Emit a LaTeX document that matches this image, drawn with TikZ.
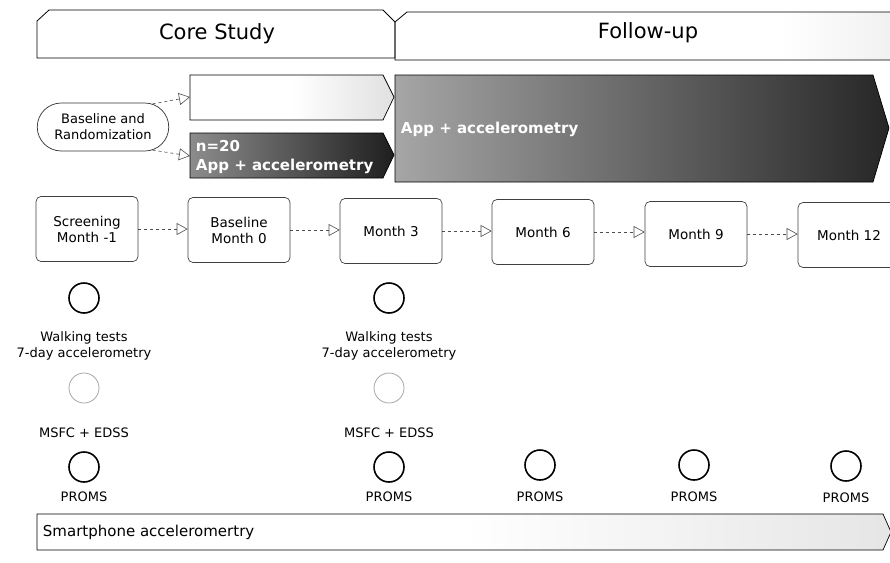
\documentclass[tikz,border=0pt]{standalone}
\usepackage{fontspec}
\setmainfont{DejaVu Sans}
\usepackage{tikz}
\usetikzlibrary{arrows.meta, shapes.misc}

\tikzset{
  monthbox/.style={draw=black!75, line width=0.7pt, rounded corners=5pt, minimum width=102pt, minimum height=65pt, align=center, font=\fontsize{13.5}{16}\selectfont},
  visit/.style={circle, draw=black, line width=1.6pt, minimum size=30pt, inner sep=0pt},
  visitfaint/.style={circle, draw=black!35, line width=0.8pt, minimum size=30pt, inner sep=0pt},
  lbl/.style={align=center, inner sep=0.75pt, font=\fontsize{13}{16}\selectfont},
  flow/.style={draw=black!70, dashed, line width=0.6pt, -{Triangle[open, length=11pt, width=12pt]}},
  armtext/.style={text=white, font=\fontsize{15}{19}\bfseries\selectfont, align=left, anchor=west, inner sep=0.75pt},
}

\begin{document}
\begin{tikzpicture}[x=1pt,y=1pt,yscale=-1,xscale=1]
\useasboundingbox (0,0) rectangle (890,562);
\clip (0,0) rectangle (890,562);

%Shape: Core Study header
\draw [line width=0.8pt, fill=white] (37,21) -- (49,10) -- (383,10) -- (395,22) -- (395,58) -- (37,58) -- cycle;
%Shape: Follow-up header
\begin{scope}
\clip (395,22) -- (407,12) -- (892,12) -- (892,60) -- (395,60) -- cycle;
\shade [left color=white, right color=black!6] (780,0) rectangle (900,70);
\end{scope}
\draw [line width=0.8pt] (892,12) -- (407,12) -- (395,22) -- (395,60) -- (892,60);

% Text Node
\node [font=\fontsize{21}{25}\selectfont] (core) at (217,34) {Core Study};
% Text Node
\node [font=\fontsize{21}{25}\selectfont] (follow) at (648,33) {Follow-up};

%Shape: upper arm
\shade [left color=white, right color=black!12, middle color=white, draw=black, line width=0.7pt] (190,75) -- (383,75) -- (394,97) -- (383,120) -- (190,120) -- cycle;
\coordinate (armA) at (190,97);
%Shape: lower arm
\shade [left color=black!45, right color=black!88, draw=black, line width=0.7pt] (190,133) -- (383,133) -- (394,155) -- (383,178) -- (190,178) -- cycle;
\coordinate (armB) at (190,156);
%Shape: follow-up arm
\shade [left color=black!35, right color=black!85, draw=black, line width=0.7pt] (395,75) -- (873,75) -- (889,128) -- (873,182) -- (395,182) -- cycle;

% Text Node
\node [armtext] (appB) at (195,157) {n=20\\App + accelerometry};
% Text Node
\node [armtext] (appF) at (400,129) {App + accelerometry};

%Rounded Rect: randomisation
\node [rounded rectangle, draw=black!80, line width=0.7pt, minimum width=133pt, minimum height=48pt, lbl] (rand) at (103,127) {Baseline and\\Randomization};
\draw [flow] (rand.25) -- (armA);
\draw [flow] (rand.-25) -- (armB);

%Rounded Rect: visits
\node [monthbox] (scr) at (87,229) {Screening\\Month -1};
\node [monthbox] (base) at (239,230) {Baseline\\Month 0};
\node [monthbox] (m3) at (391,231) {Month 3};
\node [monthbox] (m6) at (543,232) {Month 6};
\node [monthbox] (m9) at (696,234) {Month 9};
\node [monthbox] (m12) at (849,235) {Month 12};

\draw [flow] (scr.east) -- (scr.east -| base.west);
\draw [flow] (base.east) -- (base.east -| m3.west);
\draw [flow] (m3.east) -- (m3.east -| m6.west);
\draw [flow] (m6.east) -- (m6.east -| m9.west);
\draw [flow] (m9.east) -- (m9.east -| m12.west);

%Circles: assessments
\node [visit] (walk1) at (84,298) {};
\node [lbl] (walkt1) at (84,346) {Walking tests\\7-day accelerometry};
\node [visitfaint] (msfc1) at (84,388) {};
\node [lbl] (msfct1) at (84,433) {MSFC + EDSS};
\node [visit] (prom1) at (84,467) {};
\node [lbl] (promt1) at (84,497) {PROMS};

\node [visit] (walk3) at (389,298) {};
\node [lbl] (walkt3) at (389,346) {Walking tests\\7-day accelerometry};
\node [visitfaint] (msfc3) at (389,388) {};
\node [lbl] (msfct3) at (389,433) {MSFC + EDSS};
\node [visit] (prom3) at (389,467) {};
\node [lbl] (promt3) at (389,497) {PROMS};

\node [visit] (prom6) at (540,465) {};
\node [lbl] (promt6) at (540,497) {PROMS};
\node [visit] (prom9) at (694,465) {};
\node [lbl] (promt9) at (694,497) {PROMS};
\node [visit] (prom12) at (846,466) {};
\node [lbl] (promt12) at (846,498) {PROMS};

%Shape: smartphone bar
\shade [left color=white, right color=black!10, middle color=white, draw=black, line width=0.7pt] (37,514) -- (883,514) -- (891,532) -- (883,550) -- (37,550) -- cycle;
% Text Node
\node [anchor=west, inner sep=0.75pt, font=\fontsize{15}{18}\selectfont] (phone) at (42,532) {Smartphone acceleromertry};

\end{tikzpicture}
\end{document}
